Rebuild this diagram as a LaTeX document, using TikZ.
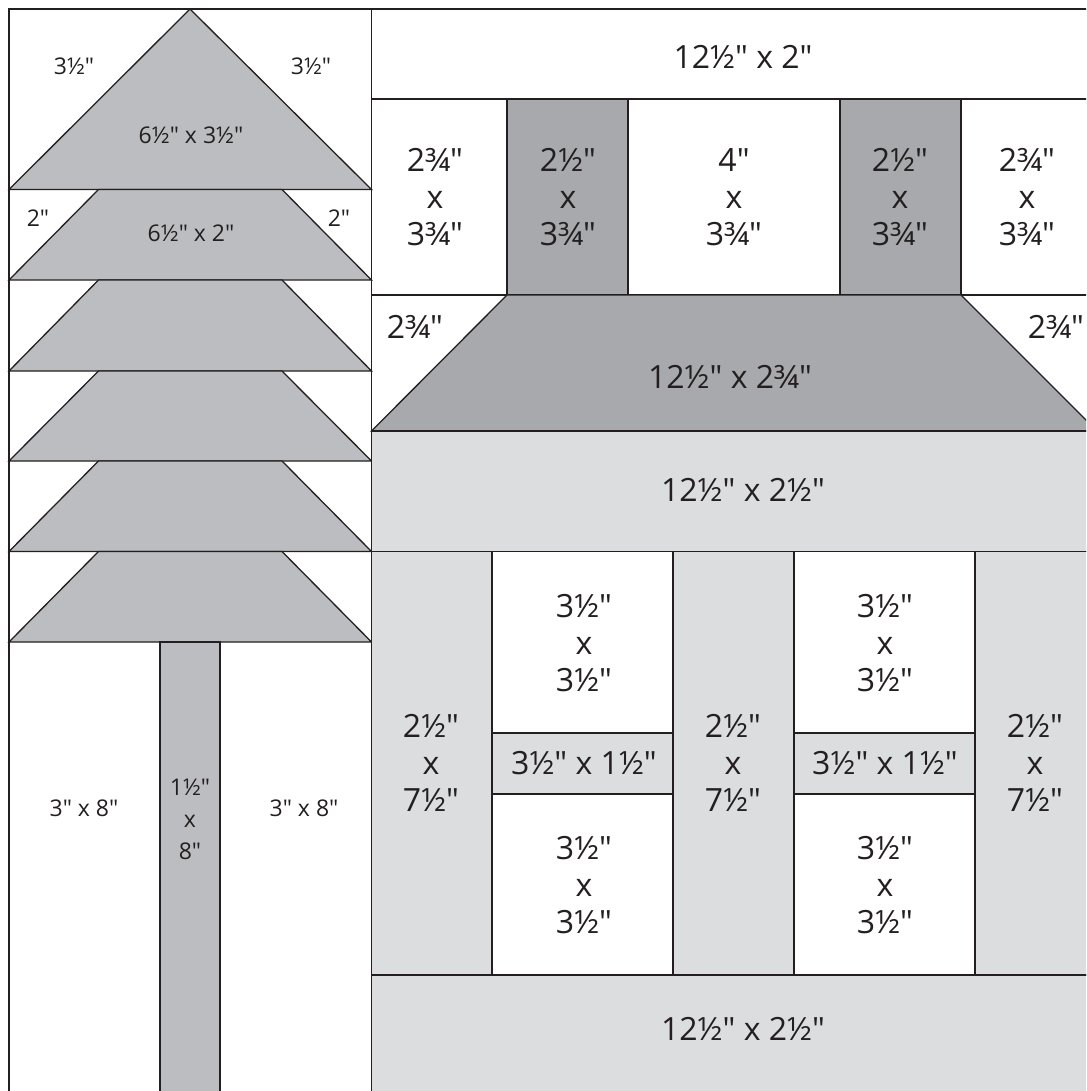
\documentclass[tikz,border=0pt]{standalone}
\usepackage{fontspec}
\setmainfont{Open Sans}[Ligatures=TeXOff]
\tikzstyle{patch} = [draw=inkline, line width=1.3pt, line join=miter]
\tikzstyle{bigtxt} = [text=inkline, align=center, inner sep=0pt, font=\fontsize{32}{37}\selectfont]
\tikzstyle{smalltxt} = [text=inkline, align=center, inner sep=0pt, font=\fontsize{23}{32}\selectfont]
\definecolor{inkline}{HTML}{231F20}
\definecolor{treegray}{HTML}{BCBDC0}
\definecolor{roofgray}{HTML}{A7A9AC}
\definecolor{wallgray}{HTML}{DCDDDF}
\begin{document}
\begin{tikzpicture}[x=1pt,y=-1pt]
        \useasboundingbox (0,0) rectangle (1086,1091);
        \clip (0,0) rectangle (1086,1091);
        % Tree
        \draw[patch, fill=treegray] (9,189.5) -- (190,9) -- (371.5,189.5) -- cycle;
        \foreach \ytop/\ybot in {189.5/280, 280/371, 371/461, 461/551.5, 551.5/642}
            \draw[patch, fill=treegray] (9,\ybot) -- (98.5,\ytop) -- (282,\ytop) -- (371.5,\ybot) -- cycle;
        \draw[patch, fill=treegray] (160,642) rectangle (220,1100);
        \draw[patch] (9,1100) -- (9,9) -- (1100,9);
        \draw[patch] (371.5,9) -- (371.5,1100);
        % Chimneys and roof
        \draw[patch] (371.5,99) -- (1100,99);
        \foreach \xa/\xb in {507/628, 840/961}
            \draw[patch, fill=roofgray] (\xa,99) rectangle (\xb,295);
        \draw[patch] (371.5,295) -- (1100,295);
        \draw[patch, fill=roofgray] (371.5,431) -- (507,295) -- (961,295) -- (1097,431) -- cycle;
        % House
        \draw[patch, fill=wallgray] (371.5,431) rectangle (1100,551.5);
        \draw[patch, fill=wallgray] (371.5,551.5) rectangle (1100,975);
        \foreach \xa/\xb in {492/673, 794/975} {
            \draw[patch, fill=white] (\xa,551.5) rectangle (\xb,975);
            \draw[patch, fill=wallgray] (\xa,733) rectangle (\xb,794);
        }
        \draw[patch, fill=wallgray] (371.5,975) rectangle (1100,1100);
        % Tree labels
        \node[smalltxt] (t1) at (74,66) {3½"};
        \node[smalltxt] (t2) at (311,66) {3½"};
        \node[smalltxt] (t3) at (191,135) {6½" x 3½"};
        \node[smalltxt] (t4) at (38,218) {2"};
        \node[smalltxt] (t5) at (339,218) {2"};
        \node[smalltxt] (t6) at (191,233) {6½" x 2"};
        \node[smalltxt] (t7) at (84,808) {3" x 8"};
        \node[smalltxt] (t8) at (190,819) {1½"\\x\\8"};
        \node[smalltxt] (t9) at (304,808) {3" x 8"};
        % House labels
        \node[bigtxt] (h1) at (743,57) {12½" x 2"};
        \foreach \x/\txt/\nm in {435/2¾"/a, 568/2½"/b, 734/4"/c, 900/2½"/d, 1027/2¾"/e}
            \node[bigtxt] (s\nm) at (\x,197) {\txt\\x\\3¾"};
        \node[bigtxt] (r1) at (415,327) {2¾"};
        \node[bigtxt] (r2) at (1056,327) {2¾"};
        \node[bigtxt] (r3) at (730,377) {12½" x 2¾"};
        \node[bigtxt] (w1) at (743,490) {12½" x 2½"};
        \foreach \x/\nm in {431/a, 733/b, 1035/c}
            \node[bigtxt] (p\nm) at (\x,763) {2½"\\x\\7½"};
        \foreach \x/\nm in {584/a, 885/b} {
            \node[bigtxt] (u\nm) at (\x,643) {3½"\\x\\3½"};
            \node[bigtxt] (m\nm) at (\x,763) {3½" x 1½"};
            \node[bigtxt] (l\nm) at (\x,885) {3½"\\x\\3½"};
        }
        \node[bigtxt] (w2) at (743,1029) {12½" x 2½"};
\end{tikzpicture}
\end{document}
